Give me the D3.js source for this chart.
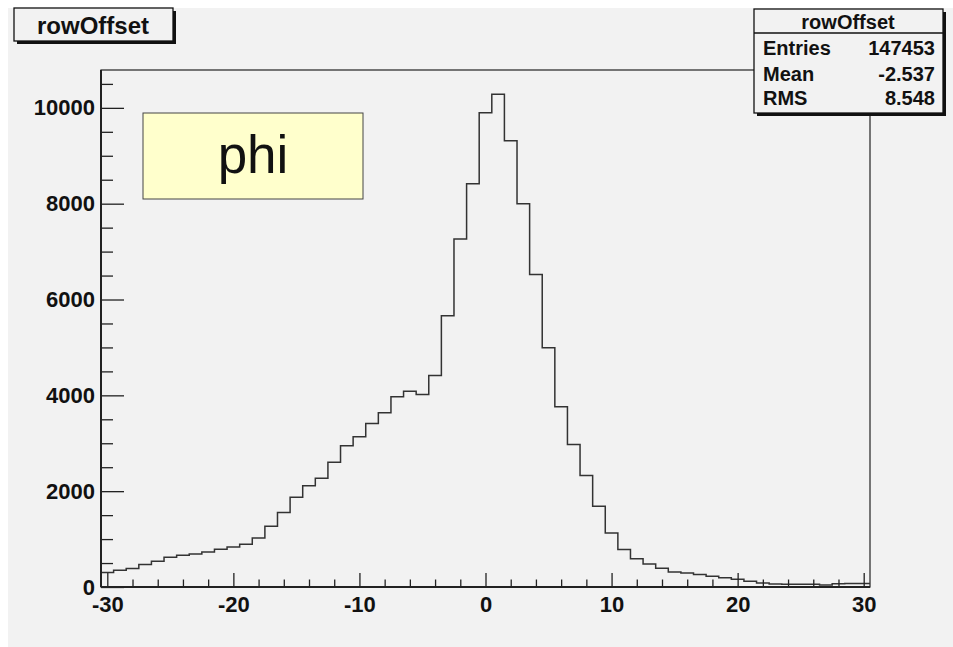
<!DOCTYPE html>
<html>
<head>
<meta charset="utf-8">
<script src="https://cdn.jsdelivr.net/npm/d3@7"></script>
<style>
  html, body { margin: 0; padding: 0; background: #fff; overflow: hidden; }
  svg { display: block; }
  svg text { font-family: "Liberation Sans", Arial, Helvetica, sans-serif; fill: #111; }
</style>
</head>
<body>
<div id="chart-area"></div>
<script>
// bin centres (width 1) and counts
var binCenters = d3.range(-30, 31);
var counts = [303, 351, 386, 470, 539, 622, 664, 691, 733, 789,
              837, 894, 1025, 1269, 1555, 1875, 2111, 2271, 2605, 2946,
              3134, 3413, 3635, 3969, 4088, 4019, 4415, 5660, 7261, 8415,
              9898, 10282, 9313, 7998, 6524, 4992, 3760, 2975, 2328, 1687,
              1129, 783, 587, 482, 392, 315, 290, 260, 225, 195,
              160, 118, 86, 65, 58, 56, 55, 44, 70, 73, 75];
var xMajor = [-30, -20, -10, 0, 10, 20, 30];
var yMajor = [0, 2000, 4000, 6000, 8000, 10000];
var statLabels = ["Entries", "Mean", "RMS"];
var statValues = ["147453", "-2.537", "8.548"];
var histName = "rowOffset";
var noteText = "phi";

var W = 953, H = 647;
var frame = {left: 101, right: 870, top: 70, bottom: 587};

var svg = d3.select("#chart-area").append("svg")
    .attr("width", W)
    .attr("height", H);

// canvas background
svg.append("rect")
    .attr("x", 8).attr("y", 8)
    .attr("width", W - 8).attr("height", H - 8)
    .attr("fill", "#f2f2f2");

var x = d3.scaleLinear()
    .domain([-30.5, 30.5])
    .range([frame.left, frame.right]);

var y = d3.scaleLinear()
    .domain([0, 10790])
    .range([frame.bottom, frame.top]);

// plain hyphen for negatives, like the original
var plain = function (d) { return String(d); };

// frame
svg.append("rect")
    .attr("x", frame.left).attr("y", frame.top)
    .attr("width", frame.right - frame.left)
    .attr("height", frame.bottom - frame.top)
    .attr("fill", "none")
    .attr("stroke", "#222")
    .attr("stroke-width", 1.2);

// histogram outline
var pts = binCenters.map(function (c, i) {
    return {x: c - 0.5, v: counts[i]};
});
pts.push({x: binCenters[binCenters.length - 1] + 0.5, v: counts[counts.length - 1]});

var line = d3.line()
    .x(function (d) { return x(d.x); })
    .y(function (d) { return y(d.v); })
    .curve(d3.curveStepAfter);

svg.append("path")
    .datum(pts)
    .attr("d", line)
    .attr("fill", "none")
    .attr("stroke", "#333")
    .attr("stroke-width", 1.5);

// x axis minor ticks
var xMinor = d3.range(-30, 31, 2).filter(function (v) { return v % 10 != 0; });
svg.append("g")
    .attr("transform", "translate(0," + frame.bottom + ")")
    .call(d3.axisBottom(x).tickValues(xMinor).tickSize(-7.5).tickFormat(""))
    .call(function (g) { g.select(".domain").remove(); })
    .selectAll("line").attr("stroke", "#222").attr("stroke-width", 1.3);

// x axis major ticks + labels
var xAxis = svg.append("g")
    .attr("transform", "translate(0," + frame.bottom + ")")
    .call(d3.axisBottom(x).tickValues(xMajor).tickSize(-14).tickPadding(9).tickFormat(plain));
xAxis.select(".domain").remove();
xAxis.selectAll("line").attr("stroke", "#222").attr("stroke-width", 1.3);
xAxis.selectAll("text")
    .style("font-size", "22px")
    .style("font-weight", "bold")
    .style("font-family", "'Liberation Sans', Arial, sans-serif")
    .attr("fill", "#111");

// y axis minor ticks
var yMinor = d3.range(500, 10501, 500).filter(function (v) { return v % 2000 != 0; });
svg.append("g")
    .attr("transform", "translate(" + frame.left + ",0)")
    .call(d3.axisLeft(y).tickValues(yMinor).tickSize(-12).tickFormat(""))
    .call(function (g) { g.select(".domain").remove(); })
    .selectAll("line").attr("stroke", "#222").attr("stroke-width", 1.3);

// y axis major ticks + labels
var yAxis = svg.append("g")
    .attr("transform", "translate(" + frame.left + ",0)")
    .call(d3.axisLeft(y).tickValues(yMajor).tickSize(-23).tickPadding(6).tickFormat(plain));
yAxis.select(".domain").remove();
yAxis.selectAll("line").attr("stroke", "#222").attr("stroke-width", 1.3);
yAxis.selectAll("text")
    .style("font-size", "22px")
    .style("font-weight", "bold")
    .style("font-family", "'Liberation Sans', Arial, sans-serif")
    .attr("fill", "#111");

// axis lines (a bit heavier than the frame)
svg.append("line")
    .attr("x1", frame.left).attr("x2", frame.right)
    .attr("y1", frame.bottom).attr("y2", frame.bottom)
    .attr("stroke", "#222").attr("stroke-width", 2);
svg.append("line")
    .attr("x1", frame.left).attr("x2", frame.left)
    .attr("y1", frame.top).attr("y2", frame.bottom)
    .attr("stroke", "#222").attr("stroke-width", 2);

// box with drop shadow
function shadowBox(x0, y0, w, h) {
    svg.append("rect")
        .attr("x", x0 + 3).attr("y", y0 + 3)
        .attr("width", w).attr("height", h)
        .attr("fill", "#111");
    svg.append("rect")
        .attr("x", x0).attr("y", y0)
        .attr("width", w).attr("height", h)
        .attr("fill", "#f2f2f2")
        .attr("stroke", "#111")
        .attr("stroke-width", 1.3);
}

// title
shadowBox(14, 8, 159, 33);
svg.append("text")
    .attr("x", 93).attr("y", 34)
    .attr("text-anchor", "middle")
    .style("font-size", "24px")
    .style("font-weight", "bold")
    .text(histName);

// stats box
shadowBox(754, 9, 189, 104);
svg.append("line")
    .attr("x1", 754).attr("x2", 943)
    .attr("y1", 33).attr("y2", 33)
    .attr("stroke", "#111").attr("stroke-width", 1.3);
svg.append("text")
    .attr("x", 848).attr("y", 29)
    .attr("text-anchor", "middle")
    .style("font-size", "20px")
    .style("font-weight", "bold")
    .text(histName);

var rowY = [55, 81, 105];
svg.selectAll(".stat-label")
    .data(statLabels)
    .enter()
    .append("text")
    .attr("class", "stat-label")
    .attr("x", 763)
    .attr("y", function (d, i) { return rowY[i]; })
    .style("font-size", "20px")
    .style("font-weight", "bold")
    .text(function (d) { return d; });

svg.selectAll(".stat-value")
    .data(statValues)
    .enter()
    .append("text")
    .attr("class", "stat-value")
    .attr("x", 935)
    .attr("y", function (d, i) { return rowY[i]; })
    .attr("text-anchor", "end")
    .style("font-size", "20px")
    .style("font-weight", "bold")
    .text(function (d) { return d; });

// "phi" note
svg.append("rect")
    .attr("x", 143).attr("y", 113)
    .attr("width", 220).attr("height", 86)
    .attr("fill", "#ffffcc")
    .attr("stroke", "#444")
    .attr("stroke-width", 1);
svg.append("text")
    .attr("x", 253).attr("y", 173)
    .attr("text-anchor", "middle")
    .style("font-size", "53px")
    .attr("fill", "#1a1a1a")
    .text(noteText);
</script>
</body>
</html>
